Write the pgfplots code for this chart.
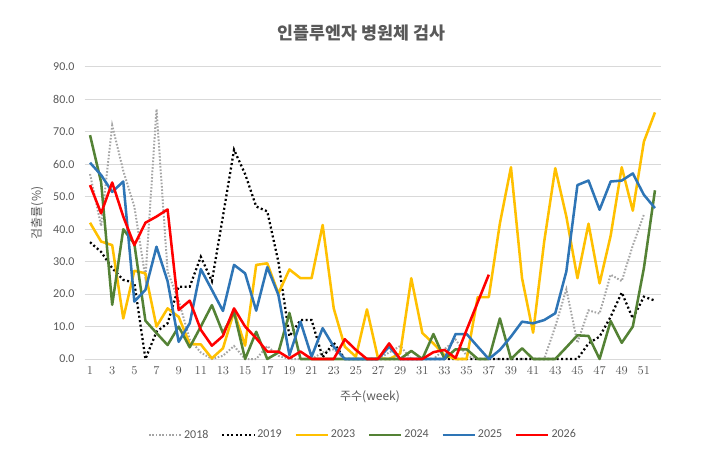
\documentclass[border=0pt]{standalone}
\usepackage{pgfplots}
\pgfplotsset{compat=1.18}
\usepackage{fontspec}
\setmainfont{Carlito}
\newfontfamily\kr{Noto Sans CJK KR}
\definecolor{txtgray}{HTML}{595959}
\definecolor{gridgray}{HTML}{D9D9D9}
\definecolor{c2018}{HTML}{A5A5A5}
\definecolor{c2019}{HTML}{000000}
\definecolor{c2023}{HTML}{FFC000}
\definecolor{c2024}{HTML}{548235}
\definecolor{c2025}{HTML}{2E75B6}
\definecolor{c2026}{HTML}{FF0000}

\pgfplotstableread{
w v
1 57
2 41
3 72
4 58
5 47
6 25
7 77
8 27
9 18
10 6
11 2
12 0
13 1
14 4
15 0
16 0
17 4
18 1
19 0
20 0
21 0
22 2
23 3
24 0
25 0
26 0
27 0
28 2
29 4
30 0
31 0
32 0
33 3
34 6
35 1
36 0
37 0
38 0
39 0
40 0
41 0
42 0
43 10
44 21.5
45 5
46 15
47 14
48 26
49 24
50 35
51 44.5
}\dataA

\pgfplotstableread{
w v
1 36
2 33
3 28
4 24.4
5 23.5
6 0
7 8.4
8 11
9 22.3
10 22.3
11 31.5
12 24
13 44
14 64.5
15 57
16 47
17 45.5
18 30
19 7
20 12
21 12
22 0.5
23 5
24 0
25 0
26 0
27 0
28 0
29 0
30 0
31 0
32 0
33 0
34 0
35 0
36 0
37 0
38 0
39 0
40 0
41 0
42 0
43 0
44 0
45 0
46 4.8
47 6.9
48 13
49 20.5
50 12.5
51 19.2
52 18
}\dataB

\pgfplotstableread{
w v
1 42
2 36.2
3 35.1
4 12.5
5 27.2
6 26.4
7 10
8 15.6
9 13
10 4.6
11 4.5
12 0.2
13 3.3
14 14.6
15 4.1
16 29
17 29.5
18 20.2
19 27.6
20 24.9
21 24.9
22 41.3
23 15.6
24 3.8
25 0.7
26 15.3
27 0.2
28 0
29 1.7
30 24.9
31 8
32 4.8
33 1.2
34 0
35 0
36 19.1
37 19.1
38 41.8
39 59.1
40 24.9
41 8.1
42 36.2
43 58.8
44 43.9
45 24.9
46 41.7
47 23.3
48 38
49 59.1
50 45.7
51 67
52 76
}\dataC

\pgfplotstableread{
w v
1 69
2 54.5
3 16.7
4 40
5 35.5
6 11.8
7 8
8 4.3
9 10
10 3.6
11 10
12 16.6
13 8
14 14.5
15 0
16 8.4
17 0
18 2
19 14.2
20 0
21 0
22 0
23 0
24 0
25 0
26 0
27 0
28 0
29 0
30 2.5
31 0
32 7.7
33 0
34 3
35 3
36 0
37 0
38 12.5
39 0
40 3.3
41 0
42 0
43 0
44 3.6
45 7.3
46 7.1
47 0
48 11.7
49 5
50 10
51 28
52 52
}\dataD

\pgfplotstableread{
w v
1 60.5
2 56.7
3 51.5
4 54.7
5 17.7
6 21.3
7 34.6
8 24
9 5.3
10 11
11 27.7
12 21.3
13 14.8
14 29
15 26.4
16 14.9
17 28.3
18 19.8
19 1.2
20 11.5
21 0.7
22 9.5
23 3.8
24 0
25 0
26 0
27 0
28 3.8
29 0
30 0
31 0
32 0
33 0
34 7.7
35 7.7
36 3.8
37 0
38 2.8
39 6.9
40 11.5
41 11
42 12
43 14.1
44 27
45 53.6
46 55
47 46
48 54.7
49 55
50 57.2
51 50.6
52 46.5
}\dataE

\pgfplotstableread{
w v
1 53.6
2 44.9
3 54.4
4 43.9
5 35.1
6 42
7 43.9
8 46.1
9 15.1
10 18
11 9
12 4.1
13 7.1
14 15.6
15 10
16 6.4
17 2.3
18 2.3
19 0.2
20 2.3
21 0
22 0
23 0
24 6.1
25 2.8
26 0
27 0
28 4.8
29 0
30 0
31 0
32 2.1
33 2.8
34 0.3
35 9
36 17.5
37 26
}\dataF

\begin{document}
\begin{tikzpicture}
\path[use as bounding box] (0pt,0pt) rectangle (540pt,348pt);
\begin{axis}[
  at={(63.375pt,78.75pt)}, anchor=south west,
  scale only axis, width=432pt, height=219pt,
  xmin=0.5, xmax=52.5, ymin=0, ymax=90,
  xtick={1,3,...,51}, ytick={0,10,...,90},
  major tick length=0pt,
  axis x line*=bottom, axis y line*=left,
  x axis line style={draw=gridgray, line width=0.75pt, -},
  y axis line style={draw=none},
  ymajorgrids, grid style={gridgray, line width=0.75pt},
  yticklabel={\pgfmathprintnumber[fixed, fixed zerofill, precision=1, assume math mode=true]{\tick}},
  ticklabel style={font=\fontsize{9}{10}\selectfont, text=txtgray},
  xticklabel style={yshift=-2pt},
  yticklabel style={xshift=-4pt},
  legend columns=6,
  legend style={at={(0.4835,-0.26)}, anchor=center, draw=none, fill=none,
    font=\fontsize{9}{10}\selectfont, text=txtgray,
    /tikz/every even column/.append style={column sep=8pt},
    nodes={inner sep=1.5pt}},
  legend image code/.code={\draw[#1] (0pt,0pt) -- (24pt,0pt);},
  clip=false,
]
\addplot[c2018, line width=1.5pt, dash pattern=on 1.2pt off 1.3pt] table[x=w,y=v] {\dataA};
\addlegendentry{2018}
\addplot[c2019, line width=1.7pt, dash pattern=on 1.5pt off 1.9pt] table[x=w,y=v] {\dataB};
\addlegendentry{2019}
\addplot[c2023, line width=1.9pt, line join=round] table[x=w,y=v] {\dataC};
\addlegendentry{2023}
\addplot[c2024, line width=1.9pt, line join=round] table[x=w,y=v] {\dataD};
\addlegendentry{2024}
\addplot[c2025, line width=1.9pt, line join=round] table[x=w,y=v] {\dataE};
\addlegendentry{2025}
\addplot[c2026, line width=1.9pt, line join=round] table[x=w,y=v] {\dataF};
\addlegendentry{2026}
\end{axis}
\node[font=\kr\bfseries\fontsize{13}{15}\selectfont, text=txtgray] at (271pt,323.5pt) {인플루엔자 병원체 검사};
\node[font=\kr\fontsize{9}{10}\selectfont, text=txtgray] at (277.5pt,50.5pt) {주수(week)};
\node[font=\kr\fontsize{9}{10}\selectfont, text=txtgray, rotate=90] at (27.75pt,188.25pt) {검출률(\%)};
\end{tikzpicture}
\end{document}
